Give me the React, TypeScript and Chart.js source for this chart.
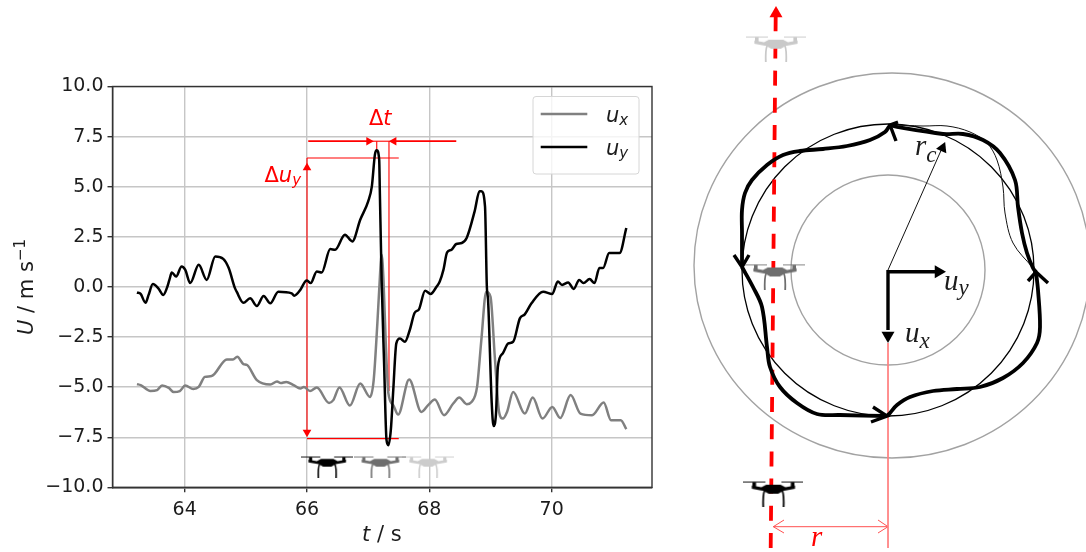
import React, { useEffect, useRef } from "react";
import { Chart, registerables } from "chart.js";

Chart.register(...registerables);

const uyTime = [63.22,63.28,63.36,63.41,63.48,63.57,63.65,63.71,63.75,63.79,63.86,63.95,64.01,64.09,64.23,64.36,64.5,64.63,64.72,64.82,64.85,64.96,65.07,65.18,65.29,65.4,65.53,65.75,65.79,65.89,65.97,66,66.06,66.16,66.24,66.38,66.46,66.62,66.74,66.87,67,67.06,67.11,67.14,67.18,67.19,67.22,67.26,67.3,67.33,67.37,67.41,67.46,67.52,67.6,67.68,67.76,67.83,67.93,68.02,68.12,68.17,68.23,68.29,68.36,68.44,68.53,68.61,68.74,68.82,68.85,68.91,68.94,68.96,69.02,69.05,69.09,69.12,69.2,69.29,69.37,69.48,69.56,69.67,69.86,70.01,70.1,70.17,70.27,70.36,70.45,70.52,70.62,70.7,70.78,70.84,70.94,71.11,71.22];
const uyValues = [-0.28,-0.35,-0.79,-0.4,0.14,-0.07,-0.4,-0.05,0.35,0.72,0.52,1.02,0.85,0.19,1.1,0.35,1.52,1.4,0.94,-0.05,-0.24,-0.79,-0.57,-0.95,-0.45,-0.82,-0.24,-0.32,-0.44,-0.15,0.27,0.32,0.19,0.77,0.72,1.89,1.85,2.6,2.27,3.35,4.27,5.02,6.6,6.82,6.35,4.85,0.35,-3.8,-7.65,-7.9,-7.15,-5.15,-2.82,-2.57,-2.74,-2.15,-1.29,-1.12,-0.19,-0.35,0.02,0.27,0.85,1.72,1.85,2.14,2.19,2.44,3.77,4.77,4.77,4.02,0.02,-0.65,-5.82,-6.94,-6.3,-3.99,-3.32,-2.82,-2.74,-1.57,-1.37,-0.82,-0.24,-0.35,0.27,0.1,0.22,-0.1,0.35,0.19,0.39,0.19,0.94,0.94,1.69,1.69,2.94];
const uxTime = [63.22,63.28,63.44,63.55,63.63,63.74,63.82,63.92,64.01,64.14,64.23,64.33,64.44,64.69,64.79,64.86,64.96,65.02,65.18,65.4,65.51,65.57,65.66,65.78,65.89,65.95,66.05,66.16,66.36,66.43,66.53,66.7,66.87,67.03,67.09,67.15,67.18,67.22,67.25,67.29,67.33,67.41,67.49,67.67,67.87,67.98,68.09,68.24,68.39,68.49,68.61,68.69,68.78,68.85,68.93,69,69.07,69.14,69.2,69.27,69.37,69.56,69.69,69.85,70.01,70.14,70.31,70.47,70.66,70.85,70.97,71.13,71.22];
const uxValues = [-4.85,-4.9,-5.19,-5.15,-4.92,-5.04,-5.25,-5.2,-4.92,-5.09,-4.99,-4.49,-4.45,-3.62,-3.62,-3.49,-3.85,-3.9,-4.65,-4.87,-4.72,-4.8,-4.74,-4.9,-5.07,-4.99,-5.2,-5.02,-5.79,-5.65,-5.02,-5.92,-4.82,-5.49,-4.65,-1.82,-0.15,1.6,0.35,-2.99,-5.3,-5.9,-6.37,-4.62,-6.24,-5.9,-5.62,-6.4,-5.82,-5.52,-5.85,-5.74,-4.99,-2.65,-0.24,-0.49,-3.49,-6.24,-6.57,-6.24,-5.24,-6.32,-5.52,-6.57,-5.99,-6.54,-5.4,-6.32,-6.4,-5.77,-6.65,-6.65,-7.1];

const xTickValues = [64, 66, 68, 70];
const yTickValues = [-10, -7.5, -5, -2.5, 0, 2.5, 5, 7.5, 10];

const redFrame: number[][][] = [
  [[66, 6.43], [66, -7.3]],
  [[66, 6.43], [67.5, 6.43]],
  [[66, -7.57], [67.5, -7.57]],
  [[67.14, 7.27], [67.14, 6.8]],
  [[67.34, 7.27], [67.34, -5.2]],
  [[67.03, 7.27], [67.42, 7.27]],
];
const redLeaders: number[][][] = [
  [[66.02, 7.27], [67.03, 7.27]],
  [[67.42, 7.27], [68.44, 7.27]],
];
const redHeads = [
  { x: 66, y: 5.95, turn: 0 },
  { x: 66, y: -7.25, turn: 180 },
  { x: 67.01, y: 7.27, turn: 90 },
  { x: 67.42, y: 7.27, turn: -90 },
];
const plotDrones = [
  { x: 66.33, y: -8.97, shade: "#000000" },
  { x: 67.2, y: -8.97, shade: "#6e6e6e" },
  { x: 67.98, y: -8.97, shade: "#cccccc" },
];

const arcUpperLeft = [[2,145],[-3,138],[-18,130],[-41,124],[-65,121],[-88,119],[-105,115],[-121,105],[-136,90],[-143,77],[-146,60],[-146,37],[-146,3]];
const arcLowerLeft = [[-146,3],[-135,-17],[-126,-37],[-121,-77],[-118,-97],[-108,-117],[-91,-133],[-71,-144],[-48,-145],[-1,-146]];
const arcLowerRight = [[-1,-146],[2,-143],[9,-135],[22,-127],[45,-121],[69,-119],[92,-117],[115,-108],[135,-93],[149,-73],[152,-57],[150,-20],[148,-2]];
const arcUpperRight = [[148,-2],[145,2],[139,17],[134,37],[130,63],[127,90],[112,117],[95,130],[75,136],[55,136],[9,143],[2,145]];
const thinPath = [[2,145],[35,144],[59,144],[82,138],[99,127],[109,110],[115,83],[117,57],[125,27],[145,2]];
const chevrons = [
  [[8,129],[2,145],[10,148]],
  [[-154,15],[-146,3],[-139,15]],
  [[-15,-137],[-1,-146],[-17,-152]],
  [[160,-13],[148,-2],[140,-11]],
];
const flightPath = [[-117.3,-278],[-112.3,253]];
const radiusLine = [[0,0],[55,124]];
const uyAxisLine = [[0,-1.7],[47,-1.7]];
const uxAxisLine = [[0,0],[0,-60]];
const lowerGuide = [[0,-73],[0,-278]];
const spanLine = [[-114.7,-256.7],[0,-256.7]];
const spanEnds = [
  [[-104,-250],[-114.7,-256.7],[-104,-263]],
  [[-10,-250],[0,-256.7],[-10,-263]],
];
const rings = [
  { x: 4, y: 4.5, rx: 198, ry: 192.5, shade: "#a2a2a2", lw: 1.4 },
  { x: 0, y: 0, rx: 97, ry: 95, shade: "#a2a2a2", lw: 1.4 },
  { x: 0, y: 0, rx: 146, ry: 146, shade: "#000000", lw: 1.3 },
];
const sketchDrones = [
  { x: -112, y: 221.3, shade: "#c9c9c9" },
  { x: -113, y: -6.5, shade: "#6e6e6e" },
  { x: -114.6, y: -223.7, shade: "#000000" },
];
const sketchHeads = [
  { x: -112, y: 256.5, turn: 0, shade: "#ff0000", size: 7.5 },
  { x: 50.5, y: -1.7, turn: 90, shade: "#000000", size: 7.5 },
  { x: 0, y: -65.5, turn: 180, shade: "#000000", size: 7.5 },
  { x: 54.5, y: 122, turn: 24, shade: "#000000", size: 6.5 },
];

const SANS = '"DejaVu Sans"';
const MATH = '"Liberation Serif"';
const RED = "#ff0000";
const TXT = "#1c1c1c";

type Run = { t: string; font: string; dy?: number };

function pairs(xs: number[], ys: number[]) {
  return xs.map((x, i) => ({ x, y: ys[i] }));
}
function pts(list: number[][]) {
  return list.map(([x, y]) => ({ x, y }));
}
function drawRuns(ctx: CanvasRenderingContext2D, x: number, y: number, runs: Run[], color: string) {
  ctx.fillStyle = color;
  ctx.textAlign = "left";
  ctx.textBaseline = "alphabetic";
  let cx = x;
  for (const r of runs) {
    ctx.font = r.font;
    ctx.fillText(r.t, cx, y + (r.dy || 0));
    cx += ctx.measureText(r.t).width;
  }
}
function runsWidth(ctx: CanvasRenderingContext2D, runs: Run[]) {
  let w = 0;
  for (const r of runs) {
    ctx.font = r.font;
    w += ctx.measureText(r.t).width;
  }
  return w;
}
function ringSprite(rx: number, ry: number, shade: string, lw: number) {
  const c = document.createElement("canvas");
  c.width = Math.ceil(2 * rx + 6);
  c.height = Math.ceil(2 * ry + 6);
  const g = c.getContext("2d")!;
  g.strokeStyle = shade;
  g.lineWidth = lw;
  g.beginPath();
  g.ellipse(c.width / 2, c.height / 2, rx, ry, 0, 0, Math.PI * 2);
  g.stroke();
  return c;
}
function droneSprite(w: number, h: number, shade: string) {
  const c = document.createElement("canvas");
  c.width = w;
  c.height = h;
  const g = c.getContext("2d")!;
  g.fillStyle = shade;
  g.strokeStyle = shade;
  g.lineCap = "round";
  g.lineWidth = 1;
  g.beginPath();
  g.moveTo(0, 1.2);
  g.lineTo(w * 0.36, 1.2);
  g.moveTo(w * 0.64, 1.2);
  g.lineTo(w, 1.2);
  g.stroke();
  g.fillRect(w * 0.15, 1.5, w * 0.06, h * 0.22);
  g.fillRect(w * 0.79, 1.5, w * 0.06, h * 0.22);
  g.beginPath();
  g.moveTo(w * 0.14, h * 0.18);
  g.lineTo(w * 0.3, h * 0.25);
  g.lineTo(w * 0.38, h * 0.15);
  g.lineTo(w * 0.62, h * 0.15);
  g.lineTo(w * 0.7, h * 0.25);
  g.lineTo(w * 0.86, h * 0.18);
  g.lineTo(w * 0.86, h * 0.31);
  g.lineTo(w * 0.66, h * 0.39);
  g.lineTo(w * 0.58, h * 0.5);
  g.lineTo(w * 0.42, h * 0.5);
  g.lineTo(w * 0.34, h * 0.39);
  g.lineTo(w * 0.14, h * 0.31);
  g.closePath();
  g.fill();
  g.lineWidth = Math.max(1.6, w * 0.03);
  g.lineCap = "butt";
  for (const side of [-1, 1]) {
    g.beginPath();
    g.moveTo(w * (0.5 + side * 0.13), h * 0.34);
    g.quadraticCurveTo(w * (0.5 + side * 0.18), h * 0.4, w * (0.5 + side * 0.17), h);
    g.stroke();
  }
  return c;
}

const plotTextPlugin = {
  id: "plotText",
  afterDraw(chart: any) {
    const ctx: CanvasRenderingContext2D = chart.ctx;
    const big = `21px ${SANS}`;
    const ital = `italic 21px ${SANS}`;
    const sub = `italic 15px ${SANS}`;
    const area = chart.chartArea;
    ctx.save();
    ctx.strokeStyle = "#333333";
    ctx.lineWidth = 1.4;
    ctx.strokeRect(area.left, area.top, area.right - area.left, area.bottom - area.top);

    drawRuns(ctx, 369, 125, [{ t: "Δ", font: big }, { t: "t", font: ital }], RED);
    drawRuns(ctx, 264.5, 181.5, [{ t: "Δ", font: big }, { t: "u", font: ital }, { t: "y", font: sub, dy: 3 }], RED);

    ctx.beginPath();
    ctx.roundRect(533, 96.5, 106, 77.5, 3);
    ctx.fillStyle = "rgba(255,255,255,0.8)";
    ctx.fill();
    ctx.strokeStyle = "#d6d6d6";
    ctx.lineWidth = 1;
    ctx.stroke();
    ctx.lineWidth = 2.4;
    ctx.strokeStyle = "#808080";
    ctx.beginPath();
    ctx.moveTo(540.7, 114);
    ctx.lineTo(587.3, 114);
    ctx.stroke();
    ctx.strokeStyle = "#000000";
    ctx.beginPath();
    ctx.moveTo(540.7, 147);
    ctx.lineTo(587.3, 147);
    ctx.stroke();
    drawRuns(ctx, 606, 121.5, [{ t: "u", font: ital }, { t: "x", font: sub, dy: 3 }], TXT);
    drawRuns(ctx, 606, 155, [{ t: "u", font: ital }, { t: "y", font: sub, dy: 3 }], TXT);

    drawRuns(ctx, 362, 541, [{ t: "t", font: ital }, { t: " / s", font: big }], TXT);

    const title: Run[] = [
      { t: "U", font: ital },
      { t: " / m s", font: big },
      { t: "−1", font: `15px ${SANS}`, dy: -8 },
    ];
    const w = runsWidth(ctx, title);
    ctx.translate(33, 287);
    ctx.rotate(-Math.PI / 2);
    drawRuns(ctx, -w / 2, 0, title, TXT);
    ctx.restore();
  },
};

const sketchTextPlugin = {
  id: "sketchText",
  afterDraw(chart: any) {
    const ctx: CanvasRenderingContext2D = chart.ctx;
    const X = chart.scales.x;
    const Y = chart.scales.y;
    const at = (x: number, y: number): [number, number] => [X.getPixelForValue(x), Y.getPixelForValue(y)];
    const big = `italic 29px ${MATH}`;
    const sub = `italic 23px ${MATH}`;
    ctx.save();
    let [px, py] = at(27, 115);
    drawRuns(ctx, px, py, [{ t: "r", font: big }, { t: "c", font: sub, dy: 7 }], TXT);
    [px, py] = at(56, -20);
    drawRuns(ctx, px, py, [{ t: "u", font: big }, { t: "y", font: sub, dy: 5 }], TXT);
    [px, py] = at(17, -72);
    drawRuns(ctx, px, py, [{ t: "u", font: big }, { t: "x", font: sub, dy: 6 }], TXT);
    [px, py] = at(-77, -276);
    drawRuns(ctx, px, py, [{ t: "r", font: big }], RED);
    ctx.restore();
  },
};

function lineSet(data: any[], color: string, width: number, order: number, extra: any = {}) {
  return {
    data,
    borderColor: color,
    borderWidth: width,
    pointRadius: 0,
    pointHoverRadius: 0,
    fill: false,
    order,
    clip: false,
    ...extra,
  };
}

export default function App() {
  const leftRef = useRef<HTMLCanvasElement>(null);
  const rightRef = useRef<HTMLCanvasElement>(null);

  useEffect(() => {
    const plotHeads = redHeads.map((h) => ({
      data: [{ x: h.x, y: h.y }],
      showLine: false,
      pointStyle: "triangle",
      pointRadius: 5,
      pointRotation: h.turn,
      pointBackgroundColor: RED,
      pointBorderWidth: 0,
      order: 4,
      clip: false,
    }));
    const droneSets = plotDrones.map((d) => ({
      data: [{ x: d.x, y: d.y }],
      showLine: false,
      pointStyle: droneSprite(52, 22, d.shade),
      pointRadius: 10,
      order: 1,
    }));
    const left = new Chart(leftRef.current!, {
      type: "line",
      data: {
        datasets: [
          lineSet(pairs(uyTime, uyValues), "#000000", 2.5, 2, { cubicInterpolationMode: "monotone", label: "u_y" }),
          lineSet(pairs(uxTime, uxValues), "#808080", 2.5, 3, { cubicInterpolationMode: "monotone", label: "u_x" }),
          ...redFrame.map((s) => lineSet(pts(s), RED, 1.1, 5)),
          ...redLeaders.map((s) => lineSet(pts(s), RED, 1.8, 5)),
          ...plotHeads,
          ...droneSets,
        ] as any,
      },
      options: {
        responsive: false,
        animation: false,
        events: [],
        layout: { autoPadding: false, padding: { top: 86.5, right: 18, left: 0, bottom: 0 } },
        plugins: { legend: { display: false }, tooltip: { enabled: false }, title: { display: false } },
        scales: {
          x: {
            type: "linear",
            min: 62.82,
            max: 71.64,
            afterFit: (s: any) => { s.height = 64.7; },
            afterBuildTicks: (s: any) => { s.ticks = xTickValues.map((value) => ({ value })); },
            grid: { color: "#c6c6c6", lineWidth: 1.4, tickColor: "#333333", tickLength: 5 },
            border: { color: "#333333", width: 1.4 },
            ticks: { color: TXT, font: { family: SANS, size: 19 }, padding: 6, maxRotation: 0, autoSkip: false },
          },
          y: {
            type: "linear",
            min: -10,
            max: 10,
            afterFit: (s: any) => { s.width = 112.5; },
            afterBuildTicks: (s: any) => { s.ticks = yTickValues.map((value) => ({ value })); },
            grid: { color: "#c6c6c6", lineWidth: 1.4, tickColor: "#333333", tickLength: 5 },
            border: { color: "#333333", width: 1.4 },
            ticks: {
              color: TXT,
              font: { family: SANS, size: 19 },
              padding: 4,
              autoSkip: false,
              callback: (v: any) => Number(v).toFixed(1).replace("-", "−"),
            },
          },
        },
      },
      plugins: [plotTextPlugin],
    } as any);

    const spriteSets = [
      ...rings.map((r) => ({
        data: [{ x: r.x, y: r.y }],
        showLine: false,
        pointStyle: ringSprite(r.rx, r.ry, r.shade, r.lw),
        pointRadius: 10,
        order: 9,
        clip: false,
      })),
    ];
    const right = new Chart(rightRef.current!, {
      type: "line",
      data: {
        datasets: [
          ...sketchDrones.map((d) => ({
            data: [{ x: d.x, y: d.y }],
            showLine: false,
            pointStyle: droneSprite(60, 26, d.shade),
            pointRadius: 10,
            order: 1,
            clip: false,
          })),
          ...sketchHeads.map((h) => ({
            data: [{ x: h.x, y: h.y }],
            showLine: false,
            pointStyle: "triangle",
            pointRadius: h.size,
            pointRotation: h.turn,
            pointBackgroundColor: h.shade,
            pointBorderWidth: 0,
            order: 2,
            clip: false,
          })),
          ...[arcUpperLeft, arcLowerLeft, arcLowerRight, arcUpperRight].map((a) =>
            lineSet(pts(a), "#000000", 3.8, 3, { tension: 0.35 })
          ),
          ...chevrons.map((c) => lineSet(pts(c), "#000000", 3.4, 3)),
          lineSet(pts(thinPath), "#111111", 1, 4, { tension: 0.35 }),
          lineSet(pts(radiusLine), "#111111", 1, 4),
          lineSet(pts(uyAxisLine), "#000000", 3.4, 3),
          lineSet(pts(uxAxisLine), "#000000", 3.4, 3),
          lineSet(pts(flightPath), RED, 3.8, 5, { borderDash: [15, 12.2] }),
          lineSet(pts(lowerGuide), "#ff8080", 1, 6),
          lineSet(pts(spanLine), "#ff5050", 1, 6),
          ...spanEnds.map((c) => lineSet(pts(c), "#ff5050", 1, 6)),
          ...spriteSets,
        ] as any,
      },
      options: {
        responsive: false,
        animation: false,
        events: [],
        layout: { autoPadding: false, padding: 0 },
        plugins: { legend: { display: false }, tooltip: { enabled: false }, title: { display: false } },
        scales: {
          x: { type: "linear", min: -218, max: 198, display: false },
          y: { type: "linear", min: -282, max: 270, display: false },
        },
      },
      plugins: [sketchTextPlugin],
    } as any);

    return () => {
      left.destroy();
      right.destroy();
    };
  }, []);

  return (
    <div style={{ position: "fixed", left: 0, top: 0, width: 1086, height: 552, background: "#fff", overflow: "hidden" }}>
      <canvas ref={leftRef} width={670} height={552} style={{ position: "absolute", left: 0, top: 0, filter: "blur(0.45px)" }} />
      <canvas ref={rightRef} width={416} height={552} style={{ position: "absolute", left: 670, top: 0, filter: "blur(0.45px)" }} />
    </div>
  );
}
